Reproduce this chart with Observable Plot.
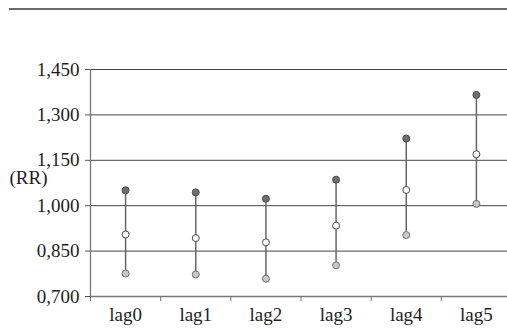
<!DOCTYPE html>
<html>
<head>
<meta charset="utf-8">
<script src="https://cdn.jsdelivr.net/npm/d3@7"></script>
<script src="https://cdn.jsdelivr.net/npm/@observablehq/plot@0.6"></script>
<style>
  html, body { margin: 0; padding: 0; background: #fff; }
  #wrap { position: relative; width: 507px; height: 331px; overflow: hidden; }
  #toprule { position: absolute; left: 9px; right: 0; top: 8px; border-top: 2px solid #6a6a6a; }
  svg text { font-family: "Liberation Serif", serif !important; }
</style>
</head>
<body>
<div id="wrap"><div id="toprule"></div></div>
<script>
const lags = ["lag0", "lag1", "lag2", "lag3", "lag4", "lag5"];
const upper = [1.051, 1.044, 1.023, 1.086, 1.222, 1.366];
const rr    = [0.905, 0.893, 0.879, 0.934, 1.052, 1.170];
const lower = [0.776, 0.773, 0.759, 0.803, 0.903, 1.006];
const yTicks = [0.70, 0.85, 1.00, 1.15, 1.30, 1.45];
const yTickLabels = ["0,700", "0,850", "1,000", "1,150", "1,300", "1,450"];
const yLabel = "(RR)";

const rows = lags.map((lag, i) => ({lag, pos: i + 0.5, upper: upper[i], rr: rr[i], lower: lower[i]}));
const boundaries = d3.range(lags.length + 1);

const fs = 19;

const chart = Plot.plot({
  width: 507,
  height: 331,
  marginTop: 69,
  marginBottom: 35,
  marginLeft: 90,
  marginRight: 0,
  style: {fontFamily: "Liberation Serif", fontSize: fs + "px", color: "#1e1e1e", background: "transparent"},
  x: {type: "linear", domain: [0, lags.length], range: [90, 511]},
  y: {domain: [0.7, 1.45], range: [296, 69]},
  marks: [
    Plot.ruleY(yTicks.slice(1), {stroke: "#444", strokeWidth: 1}),
    Plot.ruleY([0.7], {stroke: "#777", strokeWidth: 1.3}),
    Plot.ruleX([0], {stroke: "#777", strokeWidth: 1.3}),
    Plot.axisY({ticks: yTicks, tickSize: 5, tickPadding: 6, stroke: "#555", fontSize: fs, fill: "#1e1e1e",
      tickFormat: (d) => yTickLabels[yTicks.indexOf(d)], label: null}),
    Plot.axisX({ticks: boundaries, tickSize: 5, tickFormat: () => "", stroke: "#777", label: null}),
    Plot.axisX({ticks: rows.map(d => d.pos), tickSize: 0, tickPadding: 11, fontSize: fs, fill: "#1e1e1e",
      tickFormat: (d) => lags[Math.round(d - 0.5)], label: null}),
    Plot.text([yLabel], {frameAnchor: "left", text: d => d, textAnchor: "end", dx: -43, dy: -5,
      fontSize: fs, fill: "#1e1e1e"}),
    Plot.ruleX(rows, {x: "pos", y1: "lower", y2: "upper", stroke: "#666", strokeWidth: 1.5}),
    Plot.dot(rows, {x: "pos", y: "upper", r: 3.5, fill: "#6f6f6f", stroke: "#4a4a4a", strokeWidth: 1}),
    Plot.dot(rows, {x: "pos", y: "rr", r: 3.5, fill: "#ffffff", stroke: "#4a4a4a", strokeWidth: 1}),
    Plot.dot(rows, {x: "pos", y: "lower", r: 3.5, fill: "#c8c8c8", stroke: "#707070", strokeWidth: 1})
  ]
});
chart.style.position = "absolute";
chart.style.left = "0";
chart.style.top = "0";
document.getElementById("wrap").appendChild(chart);
</script>
</body>
</html>
